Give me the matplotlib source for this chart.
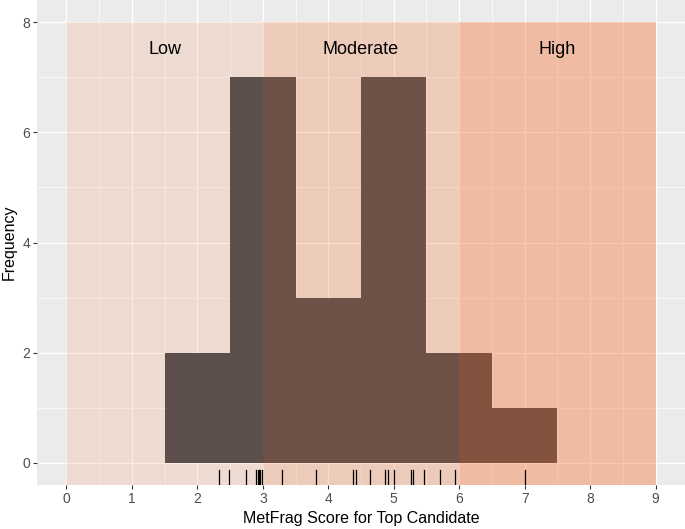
import matplotlib
matplotlib.use("Agg")
import matplotlib.pyplot as plt
import numpy as np

plt.rcParams['font.family'] = ['Liberation Sans', 'DejaVu Sans']

# MetFrag scores of the top candidate
scores = [2.33, 2.49, 2.75, 2.90, 2.92, 2.94, 2.96, 2.99, 3.30, 3.82, 4.38,
          4.43, 4.64, 4.87, 4.91, 5.00, 5.27, 5.29, 5.46, 5.70, 5.93, 7.00]
bin_edges = [1.5, 2.5, 3.5, 4.5, 5.5, 6.5, 7.5]

# shaded score ranges
zone_names = ["Low", "Moderate", "High"]
zone_start = [0, 3, 6]
zone_end = [3, 6, 9]
zone_top = 8
zone_colors = ['#F7874C', '#F6783D', '#F86D2E']
zone_alpha = [0.17, 0.27, 0.38]

fig = plt.figure(figsize=(6.85, 5.29), dpi=100)
ax = fig.add_axes([37 / 685, 44 / 529, 648 / 685, 485 / 529])
ax.set_facecolor('#EBEBEB')

# ggplot-like grid
ax.set_xticks(range(0, 10))
ax.set_xticks(np.arange(0.5, 9.5, 1), minor=True)
ax.set_yticks([0, 2, 4, 6, 8])
ax.set_yticks([1, 3, 5, 7], minor=True)
ax.grid(which='major', color='white', linewidth=1.0, zorder=0)
ax.grid(which='minor', color='white', linewidth=0.5, zorder=0)
ax.set_axisbelow(True)

ax.hist(scores, bins=bin_edges, color='#3E444C', zorder=2)

for name, x0, x1, c, a in zip(zone_names, zone_start, zone_end,
                              zone_colors, zone_alpha):
    ax.axvspan(x0, x1, ymin=0, ymax=(zone_top + 0.4) / 8.8, color=c,
               alpha=a, linewidth=0, zorder=3)
    ax.text((x0 + x1) / 2, 7.5, name, ha='center', va='center', fontsize=13,
            color='black', zorder=4)

# rug along the bottom
for s in scores:
    ax.plot([s, s], [0, 0.03], transform=ax.get_xaxis_transform(),
            color='black', linewidth=0.9, zorder=4)

ax.set_xlim(-0.45, 9.45)
ax.set_ylim(-0.4, 8.4)

for sp in ax.spines.values():
    sp.set_visible(False)
ax.tick_params(which='major', length=3, color='#333333', labelsize=10,
               labelcolor='#4D4D4D', pad=2)
ax.tick_params(which='minor', length=0)

ax.set_xlabel("MetFrag Score for Top Candidate", fontsize=11.5, labelpad=4)
ax.set_ylabel("Frequency", fontsize=11.5, labelpad=4)

fig.savefig("out.png", dpi=100)
